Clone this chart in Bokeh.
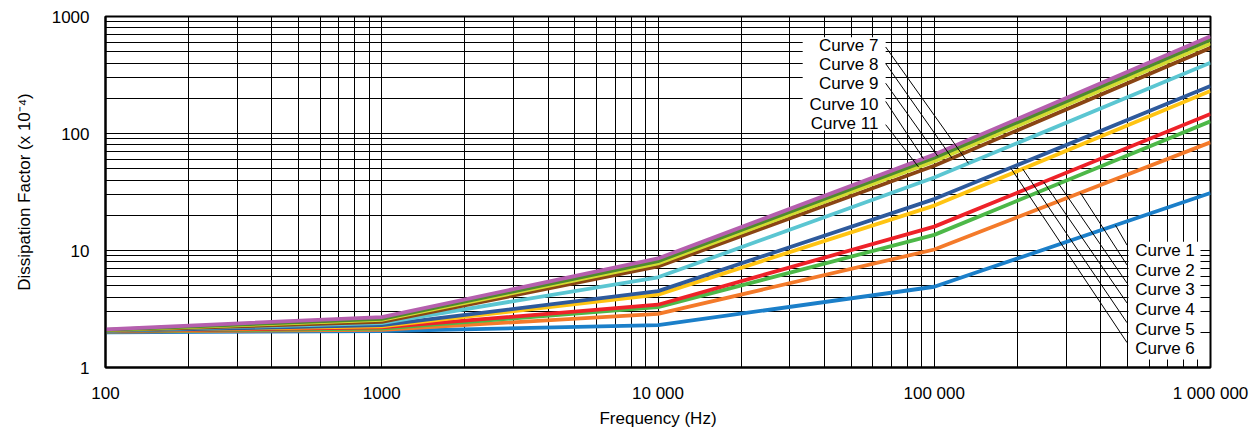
import numpy as np
from bokeh.plotting import figure
from bokeh.models import FixedTicker
from bokeh.core.properties import value
from bokeh.embed import file_html
from bokeh.resources import INLINE

# ---------------- data ----------------
freq = [100, 1000, 10000, 100000, 1000000]

c_blue = [2.00, 2.05, 2.30, 4.9, 31]
c_orange = [2.03, 2.10, 2.87, 10.2, 84]
c_green = [2.04, 2.15, 3.28, 13.6, 127]
c_red = [2.05, 2.20, 3.44, 16.0, 147]
c_yellow = [2.06, 2.25, 4.20, 24.2, 231]
c_dblue = [2.06, 2.30, 4.50, 27.5, 255]
c_cyan = [2.07, 2.40, 5.90, 42.0, 403]
c_brown = [2.08, 2.45, 7.30, 53.0, 540]
c_ygreen = [2.09, 2.55, 7.75, 58.0, 588]
c_dgreen = [2.10, 2.60, 8.10, 62.0, 634]
c_purple = [2.12, 2.70, 8.55, 66.0, 677]

series = [c_blue, c_orange, c_green, c_red, c_yellow, c_dblue,
          c_cyan, c_brown, c_ygreen, c_dgreen, c_purple]
colors = ["#1B7FC9", "#F47A2A", "#4DB848", "#EE2229", "#FFC412", "#2E5A9C",
          "#5BC6D2", "#8A4514", "#D2DC32", "#4E8B2E", "#B55FAE"]

x_ticks = [100, 1000, 10000, 100000, 1000000]
x_tick_labels = ["100", "1000", "10 000", "100 000", "1 000 000"]
y_ticks = [1, 10, 100, 1000]
y_tick_labels = ["1", "10", "100", "1000"]

# label annotations (lower group: Curve 1..6, upper group: Curve 7..11)
low_labels = ["Curve 1", "Curve 2", "Curve 3", "Curve 4", "Curve 5", "Curve 6"]
low_label_y = [9.94, 6.73, 4.61, 3.12, 2.11, 1.46]
low_label_x = 534000
low_leader_end_y = [11.1, 7.5, 5.25, 3.55, 2.41, 1.63]
low_leader_end_x = 499000
low_leader_curve = [0, 1, 2, 3, 4, 5]
low_leader_freq = [453000, 338000, 282000, 249000, 209000, 189000]

up_labels = ["Curve 7", "Curve 8", "Curve 9", "Curve 10", "Curve 11"]
up_label_y = [568, 390, 269, 178.5, 120.8]
up_label_x = 62800
up_leader_start_y = [549, 396, 269, 188, 119]
up_leader_start_x = 66700
up_leader_curve = [6, 7, 9, 10, 8]
up_leader_freq = [133000, 116000, 103000, 91400, 87700]


def on_curve(idx, f):
    vals = series[idx]
    return 10 ** np.interp(np.log10(f), np.log10(freq), np.log10(vals))


FONT = "Liberation Sans"
FS = "17px"

p = figure(width=1250, height=430, x_axis_type="log", y_axis_type="log",
           x_range=(100, 1000000), y_range=(1, 1000),
           output_backend="svg", toolbar_location=None,
           min_border_left=105, min_border_right=40, min_border_top=16,
           min_border_bottom=60)

# ticks / grid
minor_x = [m * 10 ** e for e in range(2, 6) for m in range(2, 10)]
minor_y = [m * 10 ** e for e in range(0, 3) for m in range(2, 10)]
p.xaxis.ticker = FixedTicker(ticks=x_ticks, minor_ticks=minor_x)
p.yaxis.ticker = FixedTicker(ticks=y_ticks, minor_ticks=minor_y)
p.xaxis.major_label_overrides = dict(zip(x_ticks, x_tick_labels))
p.yaxis.major_label_overrides = dict(zip(y_ticks, y_tick_labels))

for g in (p.xgrid, p.ygrid):
    g.grid_line_color = "black"
    g.grid_line_width = 1
    g.minor_grid_line_color = "black"
    g.minor_grid_line_width = 1

for ax in (p.xaxis, p.yaxis):
    ax.major_tick_line_color = None
    ax.minor_tick_line_color = None
    ax.major_tick_out = 0
    ax.major_tick_in = 0
    ax.minor_tick_out = 0
    ax.minor_tick_in = 0
    ax.axis_line_color = "black"
    ax.axis_line_width = 2
    ax.major_label_text_font = FONT
    ax.major_label_text_font_size = FS
    ax.major_label_text_color = "black"
    ax.axis_label_text_font = FONT
    ax.axis_label_text_font_size = FS
    ax.axis_label_text_font_style = "normal"
    ax.axis_label_text_color = "black"

p.xaxis.axis_label = "Frequency (Hz)"
p.yaxis.axis_label = "Dissipation Factor (x 10\u207b\u2074)"
p.xaxis.major_label_standoff = 16
p.xaxis.axis_label_standoff = 3
p.yaxis.major_label_standoff = 16
p.yaxis.axis_label_standoff = 15

p.outline_line_color = "black"
p.outline_line_width = 2

# curves
for vals, col in zip(series, colors):
    p.line(freq, vals, line_color=col, line_width=3.8)

# white boxes behind the labels
p.quad(left=[505000, 33400], right=[920000, 66700], bottom=[1.17, 106],
       top=[11.9, 664], fill_color="white", line_color=None)

# leader lines
lx0 = [low_leader_freq[i] for i in range(6)]
ly0 = [on_curve(low_leader_curve[i], low_leader_freq[i]) for i in range(6)]
p.segment(x0=lx0, y0=ly0, x1=[low_leader_end_x] * 6, y1=low_leader_end_y,
          line_color="black", line_width=1)
ux1 = up_leader_freq
uy1 = [on_curve(up_leader_curve[i], up_leader_freq[i]) for i in range(5)]
p.segment(x0=[up_leader_start_x] * 5, y0=up_leader_start_y, x1=ux1, y1=uy1,
          line_color="black", line_width=1)

# label texts
p.text(x=[low_label_x] * 6, y=low_label_y, text=low_labels,
       text_font=value(FONT), text_font_size=FS, text_color="black",
       text_align="left", text_baseline="middle")
p.text(x=[up_label_x] * 5, y=up_label_y, text=up_labels,
       text_font=value(FONT), text_font_size=FS, text_color="black",
       text_align="right", text_baseline="middle")

open("out.html", "w").write(file_html(p, INLINE))
